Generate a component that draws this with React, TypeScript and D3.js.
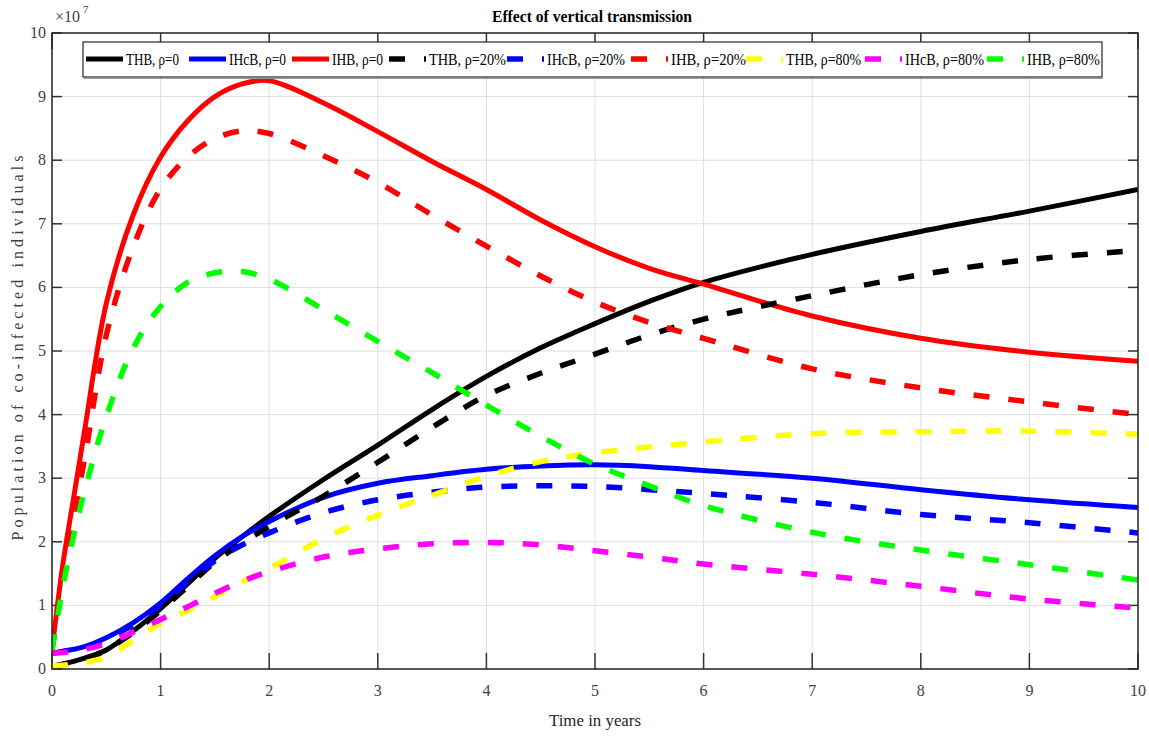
import React from "react";
import * as d3 from "d3";

const T = [0, 0.05, 0.1, 0.2, 0.3, 0.5, 0.75, 1, 1.25, 1.5, 1.75, 2, 2.5, 3, 3.5, 4, 4.5, 5, 5.5, 6, 7, 8, 9, 10];

const THB0 = [0.05, 0.06, 0.08, 0.12, 0.17, 0.3, 0.6, 0.95, 1.34, 1.74, 2.08, 2.4, 2.98, 3.52, 4.08, 4.6, 5.05, 5.43, 5.78, 6.08, 6.52, 6.88, 7.2, 7.54];
const IHcB0 = [0.25, 0.26, 0.28, 0.31, 0.35, 0.49, 0.73, 1.04, 1.42, 1.78, 2.08, 2.32, 2.7, 2.92, 3.04, 3.14, 3.19, 3.21, 3.18, 3.12, 3.0, 2.82, 2.66, 2.54];
const IHB0 = [0.3, 1.0, 1.65, 2.7, 3.75, 5.75, 7.15, 8.05, 8.62, 9.0, 9.2, 9.25, 8.9, 8.45, 7.98, 7.54, 7.06, 6.64, 6.3, 6.05, 5.55, 5.2, 4.98, 4.84];
const THB20 = [0.05, 0.055, 0.07, 0.1, 0.15, 0.3, 0.58, 0.92, 1.3, 1.68, 1.98, 2.24, 2.72, 3.25, 3.8, 4.3, 4.65, 4.95, 5.25, 5.5, 5.87, 6.2, 6.44, 6.58];
const IHcB20 = [0.25, 0.26, 0.27, 0.3, 0.34, 0.47, 0.7, 1.0, 1.37, 1.7, 1.95, 2.14, 2.46, 2.66, 2.78, 2.86, 2.88, 2.87, 2.82, 2.76, 2.62, 2.43, 2.3, 2.14];
const IHB20 = [0.3, 0.9, 1.5, 2.4, 3.3, 5.25, 6.65, 7.55, 8.05, 8.34, 8.46, 8.42, 8.07, 7.65, 7.14, 6.65, 6.18, 5.77, 5.45, 5.2, 4.72, 4.42, 4.2, 4.0];
const THB80 = [0.05, 0.055, 0.06, 0.08, 0.1, 0.19, 0.45, 0.72, 0.92, 1.14, 1.37, 1.58, 2.05, 2.42, 2.73, 3.03, 3.26, 3.4, 3.49, 3.57, 3.7, 3.73, 3.74, 3.69];
const IHcB80 = [0.25, 0.255, 0.26, 0.28, 0.31, 0.4, 0.58, 0.78, 0.98, 1.19, 1.38, 1.53, 1.76, 1.89, 1.97, 1.99, 1.95, 1.86, 1.76, 1.65, 1.49, 1.3, 1.1, 0.96];
const IHB80 = [0.3, 0.8, 1.3, 2.1, 2.8, 3.97, 5.05, 5.7, 6.08, 6.23, 6.25, 6.13, 5.65, 5.15, 4.66, 4.15, 3.66, 3.22, 2.88, 2.57, 2.15, 1.87, 1.64, 1.4];

const SERIES_NAMES = ["THB, ρ=0", "IHcB, ρ=0", "IHB, ρ=0", "THB, ρ=20%", "IHcB, ρ=20%", "IHB, ρ=20%", "THB, ρ=80%", "IHcB, ρ=80%", "IHB, ρ=80%"];
const SERIES_VALUES = [THB0, IHcB0, IHB0, THB20, IHcB20, IHB20, THB80, IHcB80, IHB80];
const SERIES_COLORS = ["#000000", "#0000ff", "#ff0000", "#000000", "#0000ff", "#ff0000", "#ffff00", "#ff00ff", "#00ff00"];
const SERIES_DASHED = [false, false, false, true, true, true, true, true, true];

const X_TICKS = [0, 1, 2, 3, 4, 5, 6, 7, 8, 9, 10];
const Y_TICKS = [0, 1, 2, 3, 4, 5, 6, 7, 8, 9, 10];

const TITLE = "Effect of vertical transmission";
const X_LABEL = "Time in years";
const Y_LABEL = "Population of co-infected individuals";

// layout
const L = 52, R = 1138, TOP = 33, B = 669;
const LEGEND_X = [86, 189, 292, 389, 507, 631, 746, 865, 987];
const LEGEND_W = [53, 57, 51, 77, 78, 75, 75, 79, 73];
const DASH = "16,19";
const FONT = "'Liberation Serif', 'Times New Roman', serif";

export default function App() {
  const x = d3.scaleLinear().domain([0, 10]).range([L, R]);
  const y = d3.scaleLinear().domain([0, 10]).range([B, TOP]);
  const line = d3
    .line<number>()
    .x((_, i) => x(T[i]))
    .y((v) => y(v))
    .curve(d3.curveCatmullRom.alpha(0.5));

  return (
    <svg width={1149} height={738} style={{ position: "absolute", left: 0, top: 0, background: "#fff" }} fontFamily={FONT}>
      <rect x={0} y={0} width={1149} height={738} fill="#fff" />
      <defs>
        <clipPath id="plotclip">
          <rect x={L} y={TOP} width={R - L} height={B - TOP} />
        </clipPath>
      </defs>
      {/* grid */}
      {X_TICKS.map((t) => (
        <line key={"gx" + t} x1={x(t)} x2={x(t)} y1={TOP} y2={B} stroke="#dedede" strokeWidth={1} />
      ))}
      {Y_TICKS.map((t) => (
        <line key={"gy" + t} x1={L} x2={R} y1={y(t)} y2={y(t)} stroke="#dedede" strokeWidth={1} />
      ))}
      {/* ticks */}
      {X_TICKS.map((t) => (
        <g key={"tx" + t}>
          <line x1={x(t)} x2={x(t)} y1={B} y2={B - 16} stroke="#333" strokeWidth={1.5} />
          <line x1={x(t)} x2={x(t)} y1={TOP} y2={TOP + 16} stroke="#333" strokeWidth={1.5} />
          <text x={x(t)} y={696} textAnchor="middle" fontSize={16} fill="#404040" fontFamily={FONT}>{t}</text>
        </g>
      ))}
      {Y_TICKS.map((t) => (
        <g key={"ty" + t}>
          <line x1={L} x2={L + 10} y1={y(t)} y2={y(t)} stroke="#333" strokeWidth={1.5} />
          <line x1={R} x2={R - 10} y1={y(t)} y2={y(t)} stroke="#333" strokeWidth={1.5} />
          <text x={46} y={y(t) + 5} textAnchor="end" fontSize={16} fill="#404040" fontFamily={FONT}>{t}</text>
        </g>
      ))}
      {/* exponent */}
      <text x={55} y={22} fontSize={16} fill="#404040">×10</text>
      <text x={83} y={13} fontSize={11} fill="#404040">7</text>
      {/* series */}
      <g clipPath="url(#plotclip)">
        {SERIES_VALUES.map((vals, i) => (
          <path
            key={"s" + i}
            d={line(vals) || ""}
            fill="none"
            stroke={SERIES_COLORS[i]}
            strokeWidth={SERIES_DASHED[i] ? 5.5 : 5}
            strokeDasharray={SERIES_DASHED[i] ? DASH : undefined}
            strokeLinejoin="round"
          />
        ))}
      </g>
      {/* axes box */}
      <rect x={L} y={TOP} width={R - L} height={B - TOP} fill="none" stroke="#262626" strokeWidth={1.5} />
      {/* legend */}
      <line x1={84} x2={1103} y1={78.5} y2={78.5} stroke="#9a9a9a" strokeWidth={1} />
      <rect x={83} y={42} width={1019} height={35} fill="#fff" stroke="#262626" strokeWidth={1.2} />
      {SERIES_NAMES.map((name, i) => (
        <g key={"lg" + i}>
          <line
            x1={LEGEND_X[i]}
            x2={LEGEND_X[i] + 37}
            y1={59}
            y2={59}
            stroke={SERIES_COLORS[i]}
            strokeWidth={SERIES_DASHED[i] ? 5.5 : 5}
            strokeDasharray={SERIES_DASHED[i] ? DASH : undefined}
          />
          <text
            x={LEGEND_X[i] + 40}
            y={65}
            fontSize={16}
            fill="#000"
            textLength={LEGEND_W[i]}
            lengthAdjust="spacingAndGlyphs"
          >
            {name}
          </text>
        </g>
      ))}
      {/* labels */}
      <text x={592} y={22} textAnchor="middle" fontSize={16} fontWeight="bold" fill="#000" textLength={200} lengthAdjust="spacingAndGlyphs">{TITLE}</text>
      <text x={595} y={726} textAnchor="middle" fontSize={16} fill="#262626" textLength={92} lengthAdjust="spacingAndGlyphs">{X_LABEL}</text>
      <text
        transform={`translate(23, 348) rotate(-90)`}
        textAnchor="middle"
        fontSize={16}
        fill="#404040"
        textLength={385}
        lengthAdjust="spacing"
      >
        {Y_LABEL}
      </text>
    </svg>
  );
}
